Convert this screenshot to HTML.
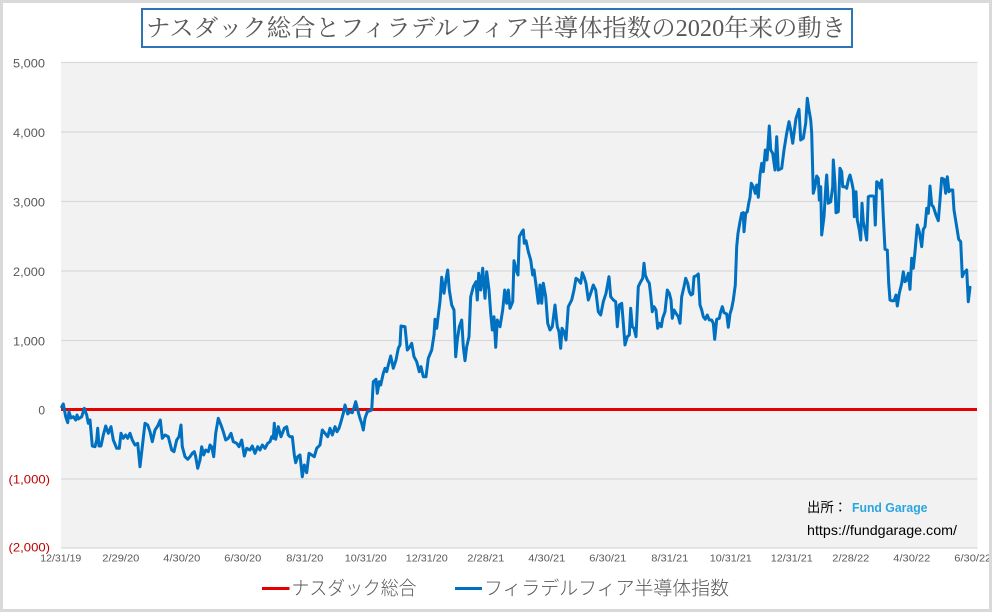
<!DOCTYPE html>
<html>
<head>
<meta charset="utf-8">
<style>
html,body{margin:0;padding:0;background:#fff;}
svg{display:block;}
</style>
</head>
<body>
<svg width="992" height="612" viewBox="0 0 992 612" xmlns="http://www.w3.org/2000/svg">
  <rect x="0" y="0" width="992" height="612" fill="#ffffff"/>

  <!-- Title -->
  <rect x="142" y="9" width="710" height="38" fill="#ffffff" stroke="#2e75b6" stroke-width="2"/>
  <text x="146" y="29" dominant-baseline="central" font-family="'Liberation Serif','Noto Serif CJK SC',serif" font-size="24" fill="#595959" textLength="700" lengthAdjust="spacingAndGlyphs">ナスダック総合とフィラデルフィア半導体指数の2020年来の動き</text>

  <!-- Plot area -->
  <rect x="61" y="62" width="916.5" height="486" fill="#f2f2f2"/>
  <g stroke="#d9d9d9" stroke-width="1.2">
    <line x1="61" y1="62.5" x2="977.5" y2="62.5"/>
    <line x1="61" y1="132" x2="977.5" y2="132"/>
    <line x1="61" y1="201.5" x2="977.5" y2="201.5"/>
    <line x1="61" y1="271" x2="977.5" y2="271"/>
    <line x1="61" y1="340.5" x2="977.5" y2="340.5"/>
    <line x1="61" y1="479" x2="977.5" y2="479"/>
    <line x1="61" y1="548" x2="977.5" y2="548"/>
  </g>

  <!-- Y labels -->
  <g font-family="'Liberation Sans',sans-serif" font-size="12" fill="#595959" dominant-baseline="central">
    <text x="45" y="63.5" text-anchor="end" textLength="32" lengthAdjust="spacingAndGlyphs">5,000</text>
    <text x="45" y="133" text-anchor="end" textLength="32" lengthAdjust="spacingAndGlyphs">4,000</text>
    <text x="45" y="202.5" text-anchor="end" textLength="32" lengthAdjust="spacingAndGlyphs">3,000</text>
    <text x="45" y="272" text-anchor="end" textLength="32" lengthAdjust="spacingAndGlyphs">2,000</text>
    <text x="45" y="341.5" text-anchor="end" textLength="32" lengthAdjust="spacingAndGlyphs">1,000</text>
    <text x="45" y="410.5" text-anchor="end">0</text>
  </g>
  <g font-family="'Liberation Sans',sans-serif" font-size="12" fill="#c00000" dominant-baseline="central">
    <text x="8.5" y="479.5" textLength="41.5" lengthAdjust="spacingAndGlyphs">(1,000)</text>
    <text x="8.5" y="547.5" textLength="41.5" lengthAdjust="spacingAndGlyphs">(2,000)</text>
  </g>

  <!-- X labels -->
  <g font-family="'Liberation Sans',sans-serif" font-size="10" fill="#595959" text-anchor="middle" dominant-baseline="central" lengthAdjust="spacingAndGlyphs">
    <text x="60.8" y="559" textLength="41" lengthAdjust="spacingAndGlyphs">12/31/19</text>
    <text x="120.8" y="559" textLength="37" lengthAdjust="spacingAndGlyphs">2/29/20</text>
    <text x="181.8" y="559" textLength="37" lengthAdjust="spacingAndGlyphs">4/30/20</text>
    <text x="242.8" y="559" textLength="37" lengthAdjust="spacingAndGlyphs">6/30/20</text>
    <text x="304.8" y="559" textLength="37" lengthAdjust="spacingAndGlyphs">8/31/20</text>
    <text x="365.8" y="559" textLength="42" lengthAdjust="spacingAndGlyphs">10/31/20</text>
    <text x="426.8" y="559" textLength="42" lengthAdjust="spacingAndGlyphs">12/31/20</text>
    <text x="485.8" y="559" textLength="37" lengthAdjust="spacingAndGlyphs">2/28/21</text>
    <text x="546.8" y="559" textLength="37" lengthAdjust="spacingAndGlyphs">4/30/21</text>
    <text x="607.8" y="559" textLength="37" lengthAdjust="spacingAndGlyphs">6/30/21</text>
    <text x="669.8" y="559" textLength="37" lengthAdjust="spacingAndGlyphs">8/31/21</text>
    <text x="730.8" y="559" textLength="42" lengthAdjust="spacingAndGlyphs">10/31/21</text>
    <text x="791.8" y="559" textLength="42" lengthAdjust="spacingAndGlyphs">12/31/21</text>
    <text x="850.8" y="559" textLength="37" lengthAdjust="spacingAndGlyphs">2/28/22</text>
    <text x="911.8" y="559" textLength="37" lengthAdjust="spacingAndGlyphs">4/30/22</text>
    <text x="972.8" y="559" textLength="37" lengthAdjust="spacingAndGlyphs">6/30/22</text>
  </g>

  <!-- Nasdaq (red zero line) -->
  <line x1="61" y1="409.5" x2="977" y2="409.5" stroke="#e60000" stroke-width="3"/>

  <!-- SOX (blue) -->
  <polyline fill="none" stroke="#0070c0" stroke-width="3" stroke-linejoin="round" stroke-linecap="round" points="
61.7,407 63.3,404 65.7,416.7 67.7,422.7 69,411.7 71,418 73.3,416.7 75.7,420 77,415 78.3,419 81.7,416.7 84.3,408.3 86.7,415 88.3,423.3 90,420 92.3,446 95,446.7 96.7,440 97.7,428.3 99,446 101,446 103.3,435 105.7,426 108.3,433.3 111,426.7 113.3,440 116.7,448.3 119.3,448.3 121,433.3 123.3,438.3 125.7,435 127.7,438.3 130,433.3 132.3,440 135,445 137.7,443.3 140,466.7 142.3,446.7 145,423.3 147.7,425 150,431.7 152.3,441.7 155,430 157.7,426 160.3,420 162.3,438.3 165,435 168.3,436.7 171.7,450 174,451.7 176.7,440 179,436.7 181,425 182.3,446.7 185,456.7 187.7,459.3 190,456.7 192.3,453.3 194.3,451.7 195.7,456.7 197.7,468.3 200,460 201.7,446.7 203.7,455 205.7,450 208.3,451.7 210,445 211.7,446.7 213.7,456.7 215.7,433.3 218.3,418.3 221,425 223.3,431.7 225.7,440 228.3,438.3 231,433.3 233.3,441.7 236.7,443.3 239,446.7 241.7,440 244.3,456 246.7,448.3 250,450 252.3,446 255,453.3 257.7,446.7 260,450 262.3,445 265,448.3 267.7,443.3 270,441.7 271.7,436.7 273.3,438.3 274.3,423.3 275.7,439.3 278.3,426.7 281,436.7 284.3,428.3 286.7,426.7 288.3,435 290,436.7 292.3,436.7 294.3,455 295.7,462.7 297.7,456.7 300,455 302.3,476.7 304.3,465 306.7,472.7 309,453.3 311.7,455 314.3,456.7 316.7,448.3 320,445 322.3,430 325,433.3 327.7,436.7 330,428.3 332.3,435 335,426.7 337,431.7 339,428.3 341,421.7 343.3,413.3 345,405 347.7,414 350,411.7 352.3,412.7 354.3,406.7 355.7,401.7 357.7,410 360,418.3 361.7,423.3 363.3,430 365,418.3 367.3,411.7
370,410.7 371.7,410 373.3,381.7 376,379.3 377.3,393.3 379.3,381.7 380.7,385 383.3,373.3 385,368.3 386.7,371.7 388.3,365 390.7,356 393.3,368.3 396,360 398.3,348.3 400,345 401,326 405,326.7 407.3,350 410,346.7 411.7,343.3 414,356.7 416.7,361.7 419.3,371.7 421,366.7 423.3,376.7 426,376.7 428.3,358.3 431.7,350 434,335 435,319.3 436.7,328.3 438.3,315 440,301.7 441.7,277.3 444,293.3 446,279.3 447.7,270 449.3,290 451.7,305 454,310 455.7,356.7 457.3,340 459.3,326.7 461.7,320 463.3,346.7 465,360.7 466.7,346.7 469,336.7 470.7,296.7 473.3,286.7 476,281.7 477.3,300 478.7,273.3 480.7,290 482.7,268.3 485,298.3 486.7,271.7 489,290 490.7,313.3 492.3,330 494,316.7 495.7,347.3 497.3,320 500,326.7 502.7,310 504.7,290 506.7,303.3 508.3,290 510,308.3 512.7,301.7 514,260.7 516.7,271.7 518,275 519.3,236.7 522,231.7 523.3,230 524.3,243.3 526,240.7 528.3,251.7 530.7,260 532.7,275 534,270 536,285 538.3,303.3 540,285 541.7,303.3 543.3,283.3 545.7,296.7 547.7,323.3 550,330 552.3,326.7 555,305 557.3,326.7 559,331.7 560.7,348.3 562,328.3 564,331.7 566,340 568.3,306.7 571.7,300 574,290 576,278.3 578.3,280 580.7,283.3 582.3,272.7 584,276.7 586,283.3 588.3,300 590.7,293.3 593.3,285 595.7,290 598.3,311.7 600.7,315 603.3,301.7 606,293.3 609,276.7 610.7,296.7 613.3,300 615.7,301.7 617.3,326.7 619.3,305
621.7,303.3 623.3,323 625,345 627.3,336.7 629.3,335 630.7,308.3 632.3,326.7 634,328.3 636,336.7 638.3,286.7 640.7,281.7 642.7,278.3 644,263.3 645.3,275 647.3,280 649.3,283.3 650.7,295 652.3,311.7 654,306.7 656,310 657.7,328.3 659.3,323.3 661.3,326.7 662.7,318.3 665,311.7 667.3,290 669.3,293.3 671,300 672.3,318.3 674,310 676,313.3 678.3,316.7 680,323.3 681.7,296.7 684,286.7 685.7,278.3 687.7,283.3 689.3,291.7 691,295 692.7,294 694,276.7 696,276 698.3,274 700,305 701.7,310 703.3,316.7 705.3,319.3 707.3,315 709.3,320 711.7,320 713.3,323.3 714.7,339.3 716.7,319.3 719.3,318.3 720.7,311.7 722.3,306.7 724,312.7 726.7,314 728.3,327.3 730,314 731.7,308.3 733.3,300 735.3,285 736.7,246.7 738,233.3 740,221.7 741.7,213.3 743.3,212.7 744,231.7 745.7,213.3 747.3,211.7 748.7,203.3 750,197.3 751.3,183.3 753.3,186.7 755.3,193.3 756.7,185 758.3,197.3 760,175 761.7,163.3 763.3,171.7 765.3,150 767,160 769.3,126 770.7,150 772.7,153.3 775,170 776.7,136.7 778.3,170 781.7,168.3 784,150 786.7,133.3 789,121.7 790.7,130 792.7,143.3 794,133.3 796,118.3 797.7,113.3 799,109.3 800.7,140 803.3,138.3 805.7,123.3 807.3,98.3 809,110 810.7,120 811.7,133.3
813.3,193.3 815,186.7 816.7,176 818.3,178.3 819.3,200 820.7,186.7 821.7,235 824,216.7 826,183.3 826.7,175 828.3,203.3 830.7,201.7 832.7,186.7 833.3,160 835,183.3 836,212.7 838.3,211.7 840,168.3 841.7,171.7 842.7,186.7 845,186.7 846.7,188.3 848.3,180 850,175 851.7,181.7 853.3,190 854.3,216.7 856,191.7 857.3,220 859.3,230 860.7,240 862,203.3 863.3,221.7 865,230 866.7,240 868.3,196.7 870,196 872.7,196 874,196.7 875.3,225 876.7,181.7 878.7,183.3 880,188.3 881.7,180 883.3,216.7 885,249.3 887.3,250 888.7,283.3 890,300 891.7,300.7 894,300.7 896,295 897.3,306 899.3,293.3 901.7,283.3 903.3,271.7 905,281.7 906.7,280 908.3,273.3 910,289.3 911.7,258.3 913.3,268.3 915,251.7 917.3,225 919.3,231.7 921.7,246.7 923.3,229.3 925,226.7 926.7,208.3 928.3,213.3 930,186 931.7,205 933.3,206.7 936,215 938.3,220.7 940,200 941.7,178.3 944,179.3 945.7,193.3 947.3,176.7 949,191.7 950.7,190 952.7,190 954,210 956.7,226.7 958.7,239.3 960.7,241.7 962.3,276.7 964,272.7 966.7,270 968.3,301.7 970,287.3"/>

  <!-- Source -->
  <text x="807" y="507.5" dominant-baseline="central" font-family="'Liberation Sans','Noto Sans CJK JP',sans-serif" font-size="13.5" fill="#000000" textLength="40" lengthAdjust="spacingAndGlyphs">出所：</text>
  <text x="852" y="507.5" dominant-baseline="central" font-family="'Liberation Sans',sans-serif" font-size="13" font-weight="bold" fill="#2aa6df" textLength="75.5" lengthAdjust="spacingAndGlyphs">Fund Garage</text>
  <text x="807" y="530" dominant-baseline="central" font-family="'Liberation Sans',sans-serif" font-size="14" fill="#000000" textLength="150" lengthAdjust="spacingAndGlyphs">https://fundgarage.com/</text>

  <!-- Legend -->
  <line x1="262" y1="588.5" x2="289.5" y2="588.5" stroke="#e60000" stroke-width="3"/>
  <text x="291.5" y="589" dominant-baseline="central" font-family="'Liberation Sans','Noto Sans CJK JP',sans-serif" font-size="19" font-weight="300" fill="#595959" textLength="125" lengthAdjust="spacingAndGlyphs">ナスダック総合</text>
  <line x1="455" y1="588.5" x2="482" y2="588.5" stroke="#0070c0" stroke-width="3"/>
  <text x="484" y="589" dominant-baseline="central" font-family="'Liberation Sans','Noto Sans CJK JP',sans-serif" font-size="19" font-weight="300" fill="#595959" textLength="245" lengthAdjust="spacingAndGlyphs">フィラデルフィア半導体指数</text>

  <!-- Outer frame -->
  <rect x="0" y="0" width="992" height="3" fill="#d9d9d9"/>
  <rect x="0" y="0" width="3" height="612" fill="#d9d9d9"/>
  <rect x="989" y="0" width="3" height="612" fill="#d9d9d9"/>
  <rect x="0" y="609" width="992" height="3" fill="#d9d9d9"/>
</svg>
</body>
</html>
